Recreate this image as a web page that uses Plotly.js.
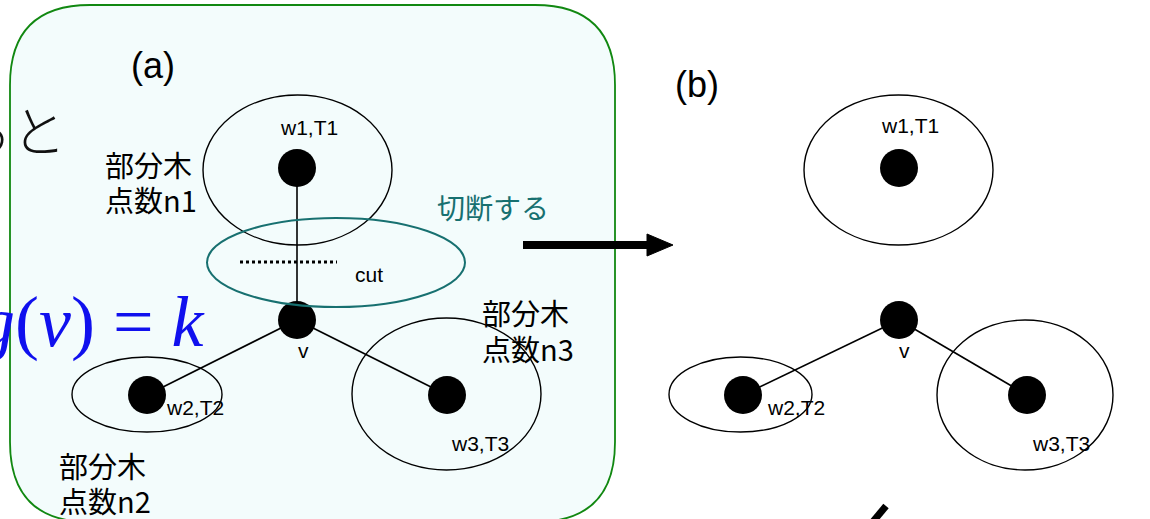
<!DOCTYPE html>
<html>
<head>
<meta charset="utf-8">
<script src="https://cdn.plot.ly/plotly-3.0.1.min.js"></script>
<style>html,body{margin:0;padding:0;background:#fff;}#chart{width:1150px;height:519px;}</style>
</head>
<body>
<div id="chart"></div>
<script>
// ---- data ----
const nodeNames = ["w1a", "va", "w2a", "w3a", "w1b", "vb", "w2b", "w3b"];
const nodeX = [297, 297, 147, 447, 899, 899, 743, 1027];
const nodeY = [168, 320, 395, 395, 168, 320, 395, 395];
const edgeFrom = ["w1a", "va", "va", "vb", "vb"];
const edgeTo   = ["va", "w2a", "w3a", "w2b", "w3b"];
// subtree ellipses: [x0, x1, y0, y1]
const ellipseNames = ["T1a", "T2a", "T3a", "T1b", "T2b", "T3b"];
const ellX0 = [203, 72, 352, 804, 669, 937];
const ellX1 = [392, 222, 541, 993, 812, 1113];
const ellY0 = [95, 357, 318, 95, 357, 320];
const ellY1 = [245, 432, 470, 245, 432, 470];
const labelTexts = ["w1,T1", "v", "w2,T2", "w3,T3", "w1,T1", "v", "w2,T2", "w3,T3", "cut"];
const labelX = [309, 303, 164, 480, 910, 904, 765, 1061, 353];
const labelY = [127, 350, 407, 443, 125, 350, 407, 443, 274];
const labelAnchor = ["center", "center", "left", "center", "center", "center", "left", "center", "left"];
const jpTexts = ["部分木", "点数n1", "部分木", "点数n3", "部分木", "点数n2"];
const jpX = [103, 103, 480, 480, 57, 57];
const jpY = [164, 199, 312, 348, 465, 500];

// ---- build ----
const idx = n => nodeNames.indexOf(n);
const shapes = [];
// panel (a) background
shapes.push({type: "path", layer: "below", xref: "x", yref: "y",
  path: "M 10,85 Q 10,5 90,5 L 535,5 Q 615,5 615,85 L 615,442 Q 615,522 535,522 L 90,522 Q 10,522 10,442 Z",
  fillcolor: "#f3fcfc", line: {color: "#118811", width: 1.8}});
// edges
for (let i = 0; i < edgeFrom.length; i++) {
  const a = idx(edgeFrom[i]), b = idx(edgeTo[i]);
  shapes.push({type: "line", layer: "below", x0: nodeX[a], y0: nodeY[a], x1: nodeX[b], y1: nodeY[b],
    line: {color: "#000", width: 1.6}});
}
// ellipses
for (let i = 0; i < ellipseNames.length; i++) {
  shapes.push({type: "circle", layer: "above", x0: ellX0[i], x1: ellX1[i], y0: ellY0[i], y1: ellY1[i],
    line: {color: "#000", width: 1.4}});
}
// cut ellipse
shapes.push({type: "circle", layer: "above", x0: 207, x1: 465, y0: 218, y1: 307, line: {color: "#177070", width: 2}});
// cut dashed line
shapes.push({type: "line", layer: "above", x0: 240, x1: 337, y0: 262, y1: 262, line: {color: "#000", width: 3, dash: "dot"}});
// arrow
shapes.push({type: "line", layer: "above", x0: 523, x1: 650, y0: 245, y1: 245, line: {color: "#000", width: 8}});
shapes.push({type: "path", layer: "above", path: "M 647,234 L 673,245 L 647,256 Z", fillcolor: "#000", line: {color: "#000", width: 1}});
// partial stroke at bottom
shapes.push({type: "line", layer: "above", x0: 871, x1: 886, y0: 524, y1: 506, line: {color: "#000", width: 7}});

const annotations = [];
const sans = "Liberation Sans, Arial, sans-serif";
for (let i = 0; i < labelTexts.length; i++) {
  annotations.push({x: labelX[i], y: labelY[i], text: labelTexts[i], showarrow: false,
    xanchor: labelAnchor[i], yanchor: "middle",
    font: {family: sans, size: 21, color: "#000"}});
}
for (let i = 0; i < jpTexts.length; i++) {
  annotations.push({x: jpX[i], y: jpY[i], text: jpTexts[i], showarrow: false, xanchor: "left", yanchor: "middle",
    font: {family: "Noto Sans CJK JP", size: 29, color: "#000"}});
}
annotations.push({x: 153, y: 65, text: "(a)", showarrow: false, xanchor: "center", yanchor: "middle",
  font: {family: sans, size: 36, color: "#000"}});
annotations.push({x: 697, y: 84, text: "(b)", showarrow: false, xanchor: "center", yanchor: "middle",
  font: {family: sans, size: 36, color: "#000"}});
annotations.push({x: 435, y: 207, text: "切断する", showarrow: false, xanchor: "left", yanchor: "middle",
  font: {family: "Noto Sans CJK JP", size: 28, color: "#177070"}});
annotations.push({x: 68, y: 128, text: "ると", showarrow: false, xanchor: "right", yanchor: "middle",
  font: {family: "Noto Sans CJK JP", size: 54, weight: 300, color: "#111"}});
annotations.push({x: 208, y: 322, text: "<i>g</i>(<i>v</i>) = <i>k</i>", showarrow: false, xanchor: "right", yanchor: "middle",
  font: {family: "Liberation Serif, Times New Roman, serif", size: 72, color: "#1010ee"}});

const trace = {type: "scatter", mode: "markers", x: nodeX, y: nodeY, text: nodeNames, hoverinfo: "none",
  marker: {size: 38, color: "#000", line: {width: 0}}, cliponaxis: false};

const layout = {width: 1150, height: 519, margin: {l: 0, r: 0, t: 0, b: 0},
  paper_bgcolor: "#fff", plot_bgcolor: "#fff", showlegend: false,
  xaxis: {range: [0, 1150], visible: false, fixedrange: true},
  yaxis: {range: [519, 0], visible: false, fixedrange: true},
  shapes: shapes, annotations: annotations};
Plotly.newPlot("chart", [trace], layout, {staticPlot: true});
</script>
</body>
</html>
